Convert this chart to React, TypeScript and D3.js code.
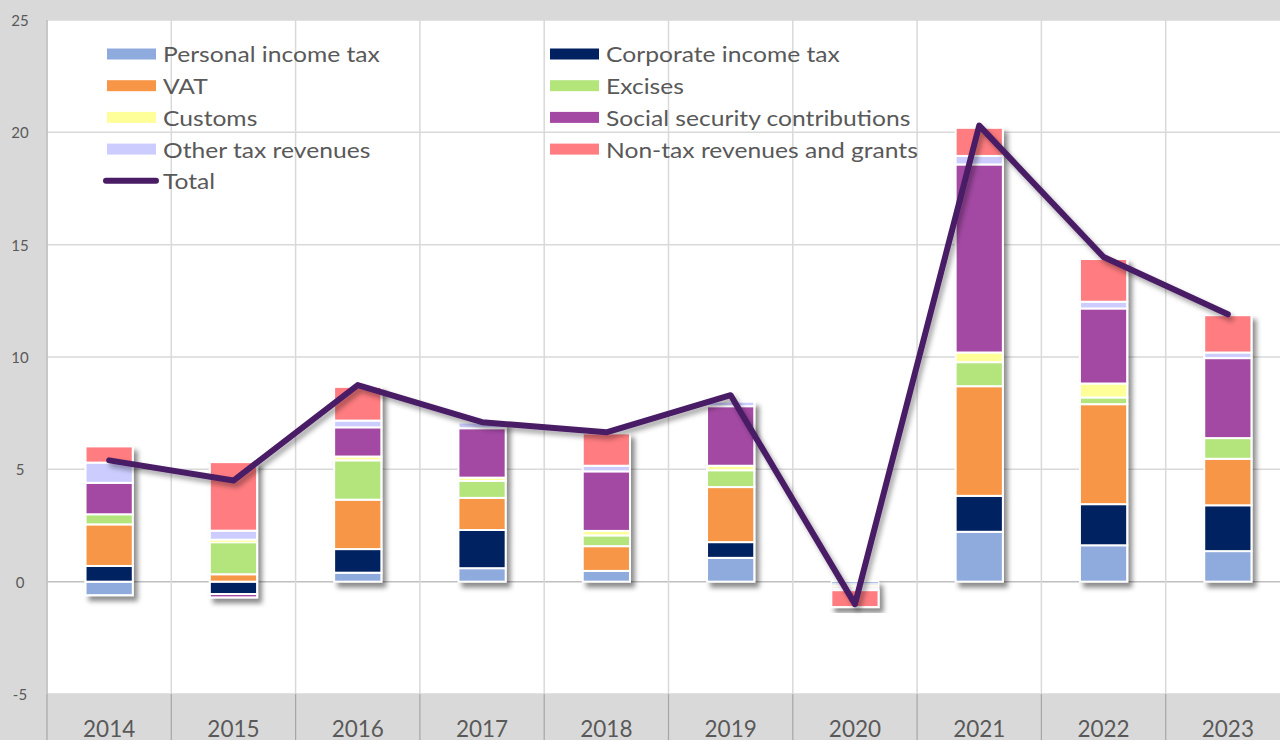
import React from 'react';
import * as d3 from 'd3';

const years = ['2014', '2015', '2016', '2017', '2018', '2019', '2020', '2021', '2022', '2023'];
const personalIncomeTax = [-0.6, 0, 0.4, 0.6, 0.48, 1.06, -0.1, 2.22, 1.62, 1.36];
const corporateIncomeTax = [0.7, -0.55, 1.05, 1.7, 0, 0.7, -0.05, 1.6, 1.83, 2.04];
const vat = [1.85, 0.33, 2.2, 1.43, 1.1, 2.45, -0.05, 4.88, 4.45, 2.07];
const excises = [0.45, 1.42, 1.75, 0.75, 0.48, 0.75, -0.05, 1.07, 0.3, 0.92];
const customs = [0, 0.12, 0.17, 0.15, 0.2, 0.2, 0.05, 0.43, 0.62, 0];
const socialSecurity = [1.4, -0.15, 1.3, 2.2, 2.65, 2.65, -0.05, 8.37, 3.34, 3.56];
const otherTax = [0.9, 0.4, 0.3, 0.25, 0.25, 0.2, -0.08, 0.38, 0.3, 0.25];
const nonTax = [0.72, 3.05, 1.5, 0, 1.44, 0, -0.75, 1.25, 1.9, 1.66];
const total = [5.4, 4.5, 8.75, 7.1, 6.65, 8.3, -1.0, 20.3, 14.45, 11.9];

const seriesNames = [
  'Personal income tax',
  'Corporate income tax',
  'VAT',
  'Excises',
  'Customs',
  'Social security contributions',
  'Other tax revenues',
  'Non-tax revenues and grants',
];
const seriesValues = [personalIncomeTax, corporateIncomeTax, vat, excises, customs, socialSecurity, otherTax, nonTax];
const seriesColors = ['#8FAADC', '#002060', '#F79646', '#B3E57B', '#FFFF99', '#A349A4', '#CCCCFF', '#FF7C80'];
const yTicks = [-5, 0, 5, 10, 15, 20, 25];

const W = 1280;
const H = 740;
const plotLeft = 47;
const plotTop = 20;
const plotBottom = 694;
const bandW = 124.3;
const FONT = 'Lato, "Open Sans", sans-serif';

export default function App() {
  const x = d3.scaleBand<string>().domain(years).range([plotLeft, plotLeft + bandW * years.length]).paddingInner(0).paddingOuter(0);
  const y = d3.scaleLinear().domain([-5, 25]).range([plotBottom, plotTop]);

  const rows = years.map((yr, i) => {
    const r: Record<string, number | string> = { year: yr };
    seriesNames.forEach((n, s) => (r[n] = seriesValues[s][i]));
    return r;
  });
  const stack = d3.stack<any>().keys(seriesNames).offset(d3.stackOffsetDiverging).order(d3.stackOrderNone);
  const stacked = stack(rows as any);

  const barW = x.bandwidth() * 0.38;
  const line = d3
    .line<number>()
    .x((_, i) => (x(years[i]) as number) + x.bandwidth() / 2)
    .y((d) => y(d));

  const legendItems = [
    { col: 0, row: 0, s: 0 },
    { col: 1, row: 0, s: 1 },
    { col: 0, row: 1, s: 2 },
    { col: 1, row: 1, s: 3 },
    { col: 0, row: 2, s: 4 },
    { col: 1, row: 2, s: 5 },
    { col: 0, row: 3, s: 6 },
    { col: 1, row: 3, s: 7 },
  ];
  const colX = [107, 550];
  const rowY = (r: number) => 54 + r * 31.7;
  const sx = 1.12;

  return (
    <svg width={W} height={H} style={{ position: 'absolute', left: 0, top: 0, display: 'block' }} fontFamily={FONT}>
      <defs>
        <filter id="shadow" x="-30%" y="-10%" width="160%" height="130%">
          <feDropShadow dx="4" dy="5" stdDeviation="2.5" floodColor="#000" floodOpacity="0.45" />
        </filter>
        <filter id="lshadow" x="-10%" y="-10%" width="120%" height="130%">
          <feDropShadow dx="3" dy="4" stdDeviation="2.5" floodColor="#000" floodOpacity="0.35" />
        </filter>
      </defs>
      <rect x={0} y={0} width={W} height={H} fill="#D9D9D9" />
      <rect x={plotLeft} y={plotTop} width={W - plotLeft} height={plotBottom - plotTop} fill="#FFFFFF" />
      {yTicks.map((t) => (
        <line key={'h' + t} x1={plotLeft} x2={W} y1={y(t)} y2={y(t)} stroke={t === 0 ? '#BFBFBF' : '#D9D9D9'} strokeWidth={1.5} />
      ))}
      {years.map((yr) => (
        <line key={'v' + yr} x1={x(yr) as number} x2={x(yr) as number} y1={plotTop} y2={plotBottom} stroke="#D9D9D9" strokeWidth={1.5} />
      ))}
      <line x1={plotLeft} x2={plotLeft} y1={plotTop} y2={plotBottom} stroke="#BFBFBF" strokeWidth={1.5} />
      {years.map((yr) => (
        <line key={'s' + yr} x1={x(yr) as number} x2={x(yr) as number} y1={plotBottom} y2={H} stroke="#A6A6A6" strokeWidth={1.2} />
      ))}
      {yTicks.map((t) => (
        <text key={'yt' + t} x={20} y={y(t)} textAnchor="middle" dominantBaseline="central" fontSize={15} fill="#595959">
          {t}
        </text>
      ))}
      {years.map((yr) => (
        <text key={'xl' + yr} x={(x(yr) as number) + x.bandwidth() / 2} y={728} textAnchor="middle" dominantBaseline="central" fontSize={22.5} fill="#595959">
          {yr}
        </text>
      ))}
      <g>
        {years.map((yr, i) => (
          <g key={'bar' + yr} filter="url(#shadow)">
            {stacked.map((ser, s) => {
              const d = ser[i];
              const y0 = y(d[0]);
              const y1 = y(d[1]);
              const top = Math.min(y0, y1);
              const h = Math.abs(y0 - y1);
              if (h < 0.01) return null;
              return (
                <rect
                  key={s}
                  x={(x(yr) as number) + x.bandwidth() / 2 - barW / 2}
                  y={top}
                  width={barW}
                  height={h}
                  fill={seriesColors[s]}
                  stroke="#FFFFFF"
                  strokeWidth={h < 3 ? 1 : 2}
                />
              );
            })}
          </g>
        ))}
      </g>
      <path d={line(total) || ''} fill="none" stroke="#4A1C66" strokeWidth={6} strokeLinejoin="round" strokeLinecap="round" filter="url(#lshadow)" />
      {legendItems.map((it) => (
        <g key={'lg' + it.s}>
          <rect x={colX[it.col]} y={rowY(it.row) - 5.5} width={49} height={11} fill={seriesColors[it.s]} />
          <text
            transform={`translate(${colX[it.col] + 56},${rowY(it.row)}) scale(${sx},1)`}
            x={0}
            y={0}
            dominantBaseline="central"
            fontSize={22}
            fill="#595959"
          >
            {seriesNames[it.s]}
          </text>
        </g>
      ))}
      <line x1={106} x2={156} y1={rowY(4)} y2={rowY(4)} stroke="#4A1C66" strokeWidth={6} strokeLinecap="round" />
      <text transform={`translate(163,${rowY(4)}) scale(${sx},1)`} x={0} y={0} dominantBaseline="central" fontSize={22} fill="#595959">
        Total
      </text>
    </svg>
  );
}
